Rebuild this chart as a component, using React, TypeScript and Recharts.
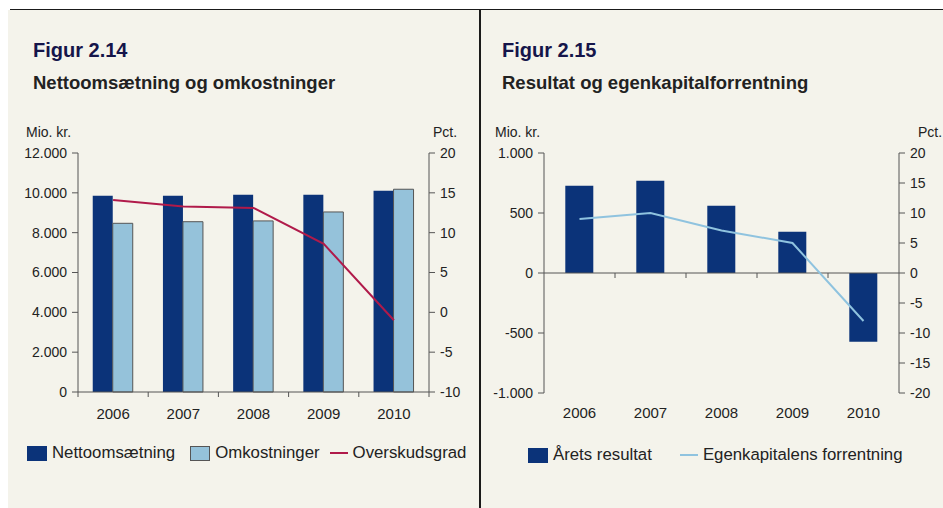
import React from "react";
import {
  ComposedChart,
  Bar,
  Line,
  XAxis,
  YAxis,
  ReferenceLine,
} from "recharts";

const years = ["2006", "2007", "2008", "2009", "2010"];

// Figur 2.14
const nettoomsaetning = [9850, 9850, 9900, 9900, 10100];
const omkostninger = [8470, 8550, 8590, 9040, 10180];
const overskudsgrad = [14.1, 13.3, 13.1, 8.6, -1.0];
const leftTicks1 = [0, 2000, 4000, 6000, 8000, 10000, 12000];
const rightTicks1 = [-10, -5, 0, 5, 10, 15, 20];

// Figur 2.15
const aretsResultat = [727, 769, 561, 344, -572];
const egenkapitalensForrentning = [9.0, 10.0, 7.1, 5.0, -8.0];
const leftTicks2 = [-1000, -500, 0, 500, 1000];
const rightTicks2 = [-20, -15, -10, -5, 0, 5, 10, 15, 20];

const FONT = '"Liberation Sans", Arial, sans-serif';
const BG = "#f4f3eb";
const NAVY = "#0b3379";
const LIGHT = "#95c2da";
const CRIMSON = "#b01a4a";
const SKY = "#8fc3df";
const AXIS = "#555";
const TEXT = "#222";

const data1 = years.map((y, i) => ({
  year: y,
  netto: nettoomsaetning[i],
  omk: omkostninger[i],
  grad: overskudsgrad[i],
}));

const data2 = years.map((y, i) => ({
  year: y,
  resultat: aretsResultat[i],
  forrentning: egenkapitalensForrentning[i],
}));

function fmt(n: number) {
  const s = Math.abs(n)
    .toString()
    .replace(/\B(?=(\d{3})+(?!\d))/g, ".");
  return n < 0 ? "-" + s : s;
}

const tickStyle = { fontSize: 14, fill: TEXT, fontFamily: FONT };
const xTickStyle = { fontSize: 15, fill: TEXT, fontFamily: FONT };

// x labels with tick marks on the category boundaries
function BoundaryTick(props: any) {
  const { x, y, payload, index, band, count } = props;
  const half = band / 2;
  return (
    <g>
      <line x1={x - half} y1={y} x2={x - half} y2={y + 5} stroke={AXIS} />
      {index === count - 1 && (
        <line x1={x + half} y1={y} x2={x + half} y2={y + 5} stroke={AXIS} />
      )}
      <text
        x={x}
        y={y + 21}
        textAnchor="middle"
        dominantBaseline="central"
        style={xTickStyle}
      >
        {payload.value}
      </text>
    </g>
  );
}

function ZeroLine(props: any) {
  const { x1, x2, y1 } = props;
  const n = years.length;
  const step = (x2 - x1) / n;
  const marks = [];
  for (let i = 1; i < n; i++) {
    marks.push(
      <line
        key={i}
        x1={x1 + step * i}
        x2={x1 + step * i}
        y1={y1}
        y2={y1 + 5}
        stroke={AXIS}
      />
    );
  }
  return (
    <g>
      <line x1={x1} x2={x2} y1={y1} y2={y1} stroke={AXIS} />
      {marks}
    </g>
  );
}

function LegendItem({ kind, color, label, gap }: any) {
  return (
    <div style={{ display: "flex", alignItems: "center", marginRight: gap }}>
      {kind === "bar" ? (
        <div
          style={{
            width: 18,
            height: 13,
            background: color,
            border: color === LIGHT ? `1px solid ${AXIS}` : `1px solid ${color}`,
            marginRight: 5,
          }}
        />
      ) : (
        <div
          style={{ width: 18, height: 2, background: color, marginRight: 5 }}
        />
      )}
      <span>{label}</span>
    </div>
  );
}

const smallLabel: React.CSSProperties = {
  position: "absolute",
  fontSize: 14,
  color: TEXT,
  fontFamily: FONT,
};

export default function App() {
  return (
    <div
      style={{
        position: "absolute",
        left: 0,
        top: 0,
        width: 943,
        height: 508,
        background: "#fff",
        fontFamily: FONT,
        overflow: "hidden",
      }}
    >
      <div
        style={{
          position: "absolute",
          left: 8,
          top: 10,
          width: 935,
          height: 498,
          background: BG,
        }}
      />
      <div
        style={{
          position: "absolute",
          left: 10,
          top: 9,
          width: 933,
          height: 1,
          background: "#1a1a1a",
        }}
      />
      <div
        style={{
          position: "absolute",
          left: 479,
          top: 9,
          width: 2,
          height: 499,
          background: "#1a1a1a",
        }}
      />

      {/* left panel */}
      <div
        style={{
          position: "absolute",
          left: 33,
          top: 39,
          fontSize: 20,
          fontWeight: "bold",
          color: "#15154a",
        }}
      >
        Figur 2.14
      </div>
      <div
        style={{
          position: "absolute",
          left: 33,
          top: 72,
          fontSize: 18.5,
          fontWeight: "bold",
          color: TEXT,
        }}
      >
        Nettoomsætning og omkostninger
      </div>
      <div style={{ ...smallLabel, left: 26, top: 124 }}>Mio. kr.</div>
      <div style={{ ...smallLabel, left: 433, top: 124 }}>Pct.</div>

      <div style={{ position: "absolute", left: 0, top: 0 }}>
        <ComposedChart
          width={479}
          height={508}
          data={data1}
          margin={{ top: 153, right: 10, bottom: 86, left: 18 }}
          barGap={0}
          barCategoryGap="21%"
        >
          <XAxis
            dataKey="year"
            height={30}
            stroke={AXIS}
            tickLine={false}
            tickSize={0}
            tickMargin={0}
            interval={0}
            tick={<BoundaryTick band={351 / years.length} count={years.length} />}
          />
          <YAxis
            yAxisId="left"
            width={60}
            domain={[0, 12000]}
            ticks={leftTicks1}
            tickFormatter={fmt}
            stroke={AXIS}
            tickSize={6}
            tickMargin={5}
            tick={tickStyle}
            interval={0}
          />
          <YAxis
            yAxisId="right"
            orientation="right"
            width={40}
            domain={[-10, 20]}
            ticks={rightTicks1}
            tickFormatter={fmt}
            stroke={AXIS}
            tickSize={6}
            tickMargin={5}
            tick={tickStyle}
            interval={0}
          />
          <Bar
            yAxisId="left"
            dataKey="netto"
            fill={NAVY}
            isAnimationActive={false}
          />
          <Bar
            yAxisId="left"
            dataKey="omk"
            fill={LIGHT}
            stroke={AXIS}
            strokeWidth={1}
            isAnimationActive={false}
          />
          <Line
            yAxisId="right"
            dataKey="grad"
            type="linear"
            stroke={CRIMSON}
            strokeWidth={2}
            dot={false}
            isAnimationActive={false}
          />
        </ComposedChart>
      </div>

      <div
        style={{
          position: "absolute",
          left: 27,
          top: 443,
          display: "flex",
          fontSize: 16.8,
          color: TEXT,
        }}
      >
        <LegendItem kind="bar" color={NAVY} label="Nettoomsætning" gap={15} />
        <LegendItem kind="bar" color={LIGHT} label="Omkostninger" gap={10} />
        <LegendItem kind="line" color={CRIMSON} label="Overskudsgrad" gap={0} />
      </div>

      {/* right panel */}
      <div
        style={{
          position: "absolute",
          left: 502,
          top: 39,
          fontSize: 20,
          fontWeight: "bold",
          color: "#15154a",
        }}
      >
        Figur 2.15
      </div>
      <div
        style={{
          position: "absolute",
          left: 502,
          top: 72,
          fontSize: 18.5,
          fontWeight: "bold",
          color: TEXT,
        }}
      >
        Resultat og egenkapitalforrentning
      </div>
      <div style={{ ...smallLabel, left: 495, top: 124 }}>Mio. kr.</div>
      <div style={{ ...smallLabel, left: 918, top: 124 }}>Pct.</div>

      <div style={{ position: "absolute", left: 479, top: 0 }}>
        <ComposedChart
          width={464}
          height={508}
          data={data2}
          margin={{ top: 153, right: 4, bottom: 85, left: 10 }}
          barCategoryGap="30%"
        >
          <XAxis
            dataKey="year"
            height={30}
            axisLine={false}
            tickLine={false}
            tickSize={0}
            tickMargin={14}
            tick={xTickStyle}
            interval={0}
          />
          <YAxis
            yAxisId="left"
            width={55}
            domain={[-1000, 1000]}
            ticks={leftTicks2}
            tickFormatter={fmt}
            stroke={AXIS}
            tickSize={6}
            tickMargin={5}
            tick={tickStyle}
            interval={0}
          />
          <YAxis
            yAxisId="right"
            orientation="right"
            width={40}
            domain={[-20, 20]}
            ticks={rightTicks2}
            tickFormatter={fmt}
            stroke={AXIS}
            tickSize={6}
            tickMargin={5}
            tick={tickStyle}
            interval={0}
          />
          <Bar
            yAxisId="left"
            dataKey="resultat"
            fill={NAVY}
            isAnimationActive={false}
          />
          <ReferenceLine yAxisId="left" y={0} shape={<ZeroLine />} />
          <Line
            yAxisId="right"
            dataKey="forrentning"
            type="linear"
            stroke={SKY}
            strokeWidth={2}
            dot={false}
            isAnimationActive={false}
          />
        </ComposedChart>
      </div>

      <div
        style={{
          position: "absolute",
          left: 528,
          top: 445,
          display: "flex",
          fontSize: 16.8,
          color: TEXT,
        }}
      >
        <LegendItem kind="bar" color={NAVY} label="Årets resultat" gap={28} />
        <LegendItem
          kind="line"
          color={SKY}
          label="Egenkapitalens forrentning"
          gap={0}
        />
      </div>
    </div>
  );
}
